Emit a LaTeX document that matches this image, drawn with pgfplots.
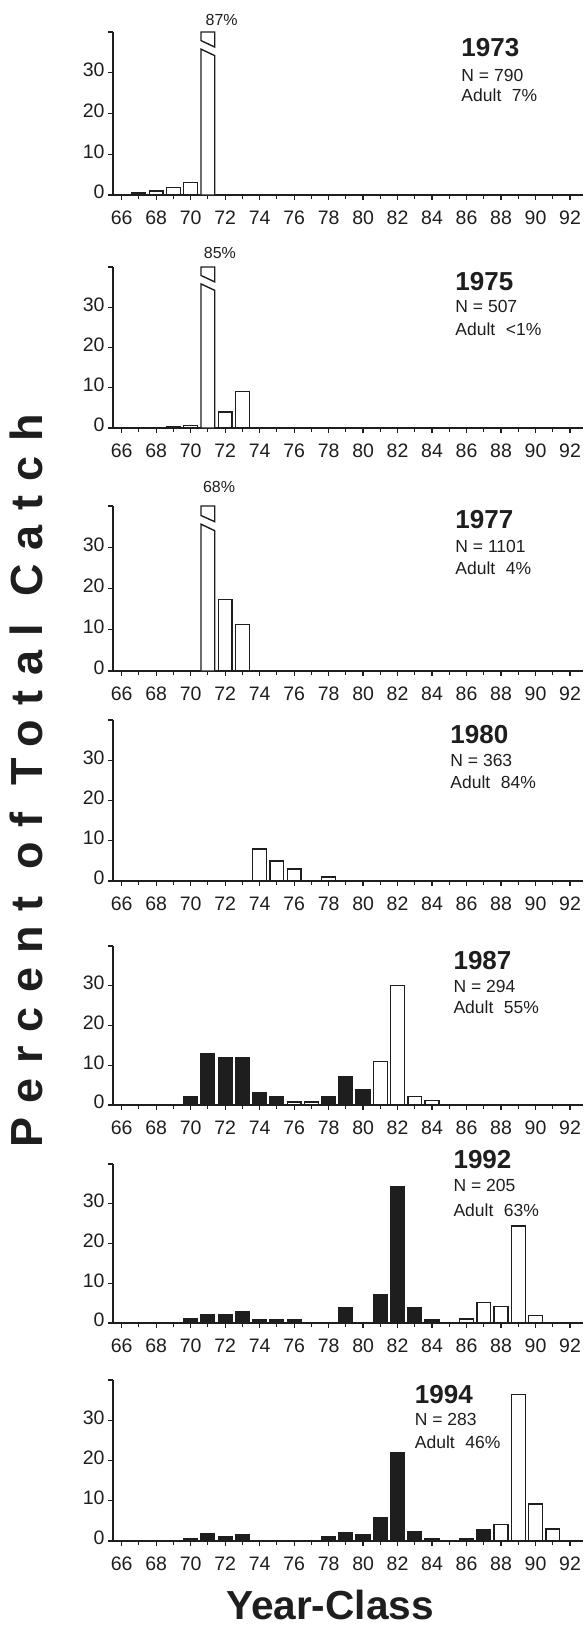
\documentclass[border=0pt]{standalone}
\usepackage{fontspec}
\setmainfont{Liberation Sans}
\usepackage{pgfplots}
\pgfplotsset{compat=1.18}
\definecolor{ink}{HTML}{1E1E1E}
\newfontfamily\spaced[LetterSpace=32]{Liberation Sans}
\pgfplotsset{
  panel/.style={
    scale only axis, width=470pt, xmin=65.5, xmax=92.75, ymin=0, ymax=40,
    axis lines=left, axis line style={-, line width=1.6pt, color=ink},
    xtick={66,68,70,72,74,76,78,80,82,84,86,88,90,92},
    xticklabels={66,68,70,72,74,76,78,80,82,84,86,88,90,92},
    minor xtick={67,69,71,73,75,77,79,81,83,85,87,89,91},
    ytick={0,10,20,30,40}, yticklabels={0,10,20,30,{}},
    tick align=outside, major tick length=5pt, minor tick length=4pt,
    tick style={line width=1.2pt, color=ink},
    typeset ticklabels with strut,
    ticklabel style={font=\fontsize{19.5}{19.5}\selectfont, text=ink},
    xticklabel style={yshift=-7pt},
    clip=false, anchor=south west,
  },
  wbar/.style={ybar, bar width=0.8, bar shift=0pt, draw=ink, fill=white, line width=1.4pt},
  bbar/.style={ybar, bar width=0.8, bar shift=0pt, draw=ink, fill=ink, line width=1.4pt},
  brk/.style={draw=ink, fill=white, line width=1.4pt, mark=none},
}
\tikzset{
  yr/.style={anchor=west, font=\bfseries\fontsize{26}{26}\selectfont, text=ink},
  nt/.style={anchor=west, font=\fontsize{17.5}{17.5}\selectfont, text=ink},
  pct/.style={font=\fontsize{16}{16}\selectfont, text=ink},
}
\begin{document}
\begin{tikzpicture}[x=1pt,y=1pt]
\useasboundingbox (0,0) rectangle (587,-1630);

% 1973
\begin{axis}[panel, height=163pt, at={(113pt,-195pt)}]
\addplot[wbar] coordinates {(67,0.5) (68,1) (69,1.8) (70,3)};
\addplot[brk] coordinates {(70.6,0) (70.6,35.8) (71.4,34.2) (71.4,0)} -- cycle;
\addplot[brk] coordinates {(70.6,37.9) (70.6,40) (71.4,40) (71.4,36.3)} -- cycle;
\node[pct] at (axis cs:71.8,42.9) {87\%};
\node[yr] at (axis cs:85.5,36.3) {1973};
\node[nt] at (axis cs:85.5,29.4) {N = 790};
\node[nt] at (axis cs:85.5,24.5) {Adult\hspace{0.6em}7\%};
\end{axis}

% 1975
\begin{axis}[panel, height=161pt, at={(113pt,-428pt)}]
\addplot[wbar] coordinates {(69,0.3) (70,0.6) (72,4) (73,9)};
\addplot[brk] coordinates {(70.6,0) (70.6,35.8) (71.4,34.2) (71.4,0)} -- cycle;
\addplot[brk] coordinates {(70.6,37.9) (70.6,40) (71.4,40) (71.4,36.3)} -- cycle;
\node[pct] at (axis cs:71.7,43.5) {85\%};
\node[yr] at (axis cs:85.15,36.3) {1975};
\node[nt] at (axis cs:85.15,30.1) {N = 507};
\node[nt] at (axis cs:85.15,24.6) {Adult\hspace{0.6em}<1\%};
\end{axis}

% 1977
\begin{axis}[panel, height=165pt, at={(113pt,-671pt)}]
\addplot[wbar] coordinates {(72,17.3) (73,11.3)};
\addplot[brk] coordinates {(70.6,0) (70.6,35.6) (71.4,34) (71.4,0)} -- cycle;
\addplot[brk] coordinates {(70.6,37.7) (70.6,40) (71.4,40) (71.4,36.2)} -- cycle;
\node[pct] at (axis cs:71.65,44.6) {68\%};
\node[yr] at (axis cs:85.15,36.6) {1977};
\node[nt] at (axis cs:85.15,30.1) {N = 1101};
\node[nt] at (axis cs:85.15,25.0) {Adult\hspace{0.6em}4\%};
\end{axis}

% 1980
\begin{axis}[panel, height=161pt, at={(113pt,-881pt)}]
\addplot[wbar] coordinates {(74,8) (75,5) (76,3) (78,1)};
\node[yr] at (axis cs:84.86,36.3) {1980};
\node[nt] at (axis cs:84.86,29.9) {N = 363};
\node[nt] at (axis cs:84.86,24.5) {Adult\hspace{0.6em}84\%};
\end{axis}

% 1987
\begin{axis}[panel, height=159pt, at={(113pt,-1105pt)}]
\addplot[bbar] coordinates {(70,2) (71,13) (72,12) (73,12) (74,3) (75,2) (78,2) (79,7.2) (80,3.8)};
\addplot[wbar] coordinates {(76,0.8) (77,0.8) (81,10.9) (82,30.1) (83,2.2) (84,1.1)};
\node[yr] at (axis cs:85.04,36.3) {1987};
\node[nt] at (axis cs:85.04,29.8) {N = 294};
\node[nt] at (axis cs:85.04,24.7) {Adult\hspace{0.6em}55\%};
\end{axis}

% 1992
\begin{axis}[panel, height=159pt, at={(113pt,-1323pt)}]
\addplot[bbar] coordinates {(70,1) (71,2) (72,2) (73,2.9) (74,0.8) (75,0.8) (76,0.8) (79,3.9) (81,7) (82,34.2) (83,3.9) (84,0.8)};
\addplot[wbar] coordinates {(86,1) (87,5.1) (88,4.1) (89,24.4) (90,1.9)};
\node[yr] at (axis cs:85.04,41) {1992};
\node[nt] at (axis cs:85.04,34.5) {N = 205};
\node[nt] at (axis cs:85.04,28.4) {Adult\hspace{0.6em}63\%};
\end{axis}

% 1994
\begin{axis}[panel, height=161pt, at={(113pt,-1541pt)}]
\addplot[bbar] coordinates {(70,0.7) (71,1.8) (72,1) (73,1.6) (78,1) (79,2) (80,1.6) (81,5.9) (82,21.9) (83,2.2) (84,0.5) (86,0.5) (87,2.9)};
\addplot[wbar] coordinates {(88,4.1) (89,36.4) (90,9.2) (91,3)};
\node[yr] at (axis cs:82.8,36.3) {1994};
\node[nt] at (axis cs:82.8,30.3) {N = 283};
\node[nt] at (axis cs:82.8,24.6) {Adult\hspace{0.6em}46\%};
\end{axis}

\node[font=\bfseries\fontsize{40.6}{40.6}\selectfont, text=ink] at (330,-1605) {Year-Class};
\node[rotate=90, font=\spaced\bfseries\fontsize{45}{45}\selectfont, text=ink] at (26,-781) {Percent of Total Catch};
\end{tikzpicture}
\end{document}
